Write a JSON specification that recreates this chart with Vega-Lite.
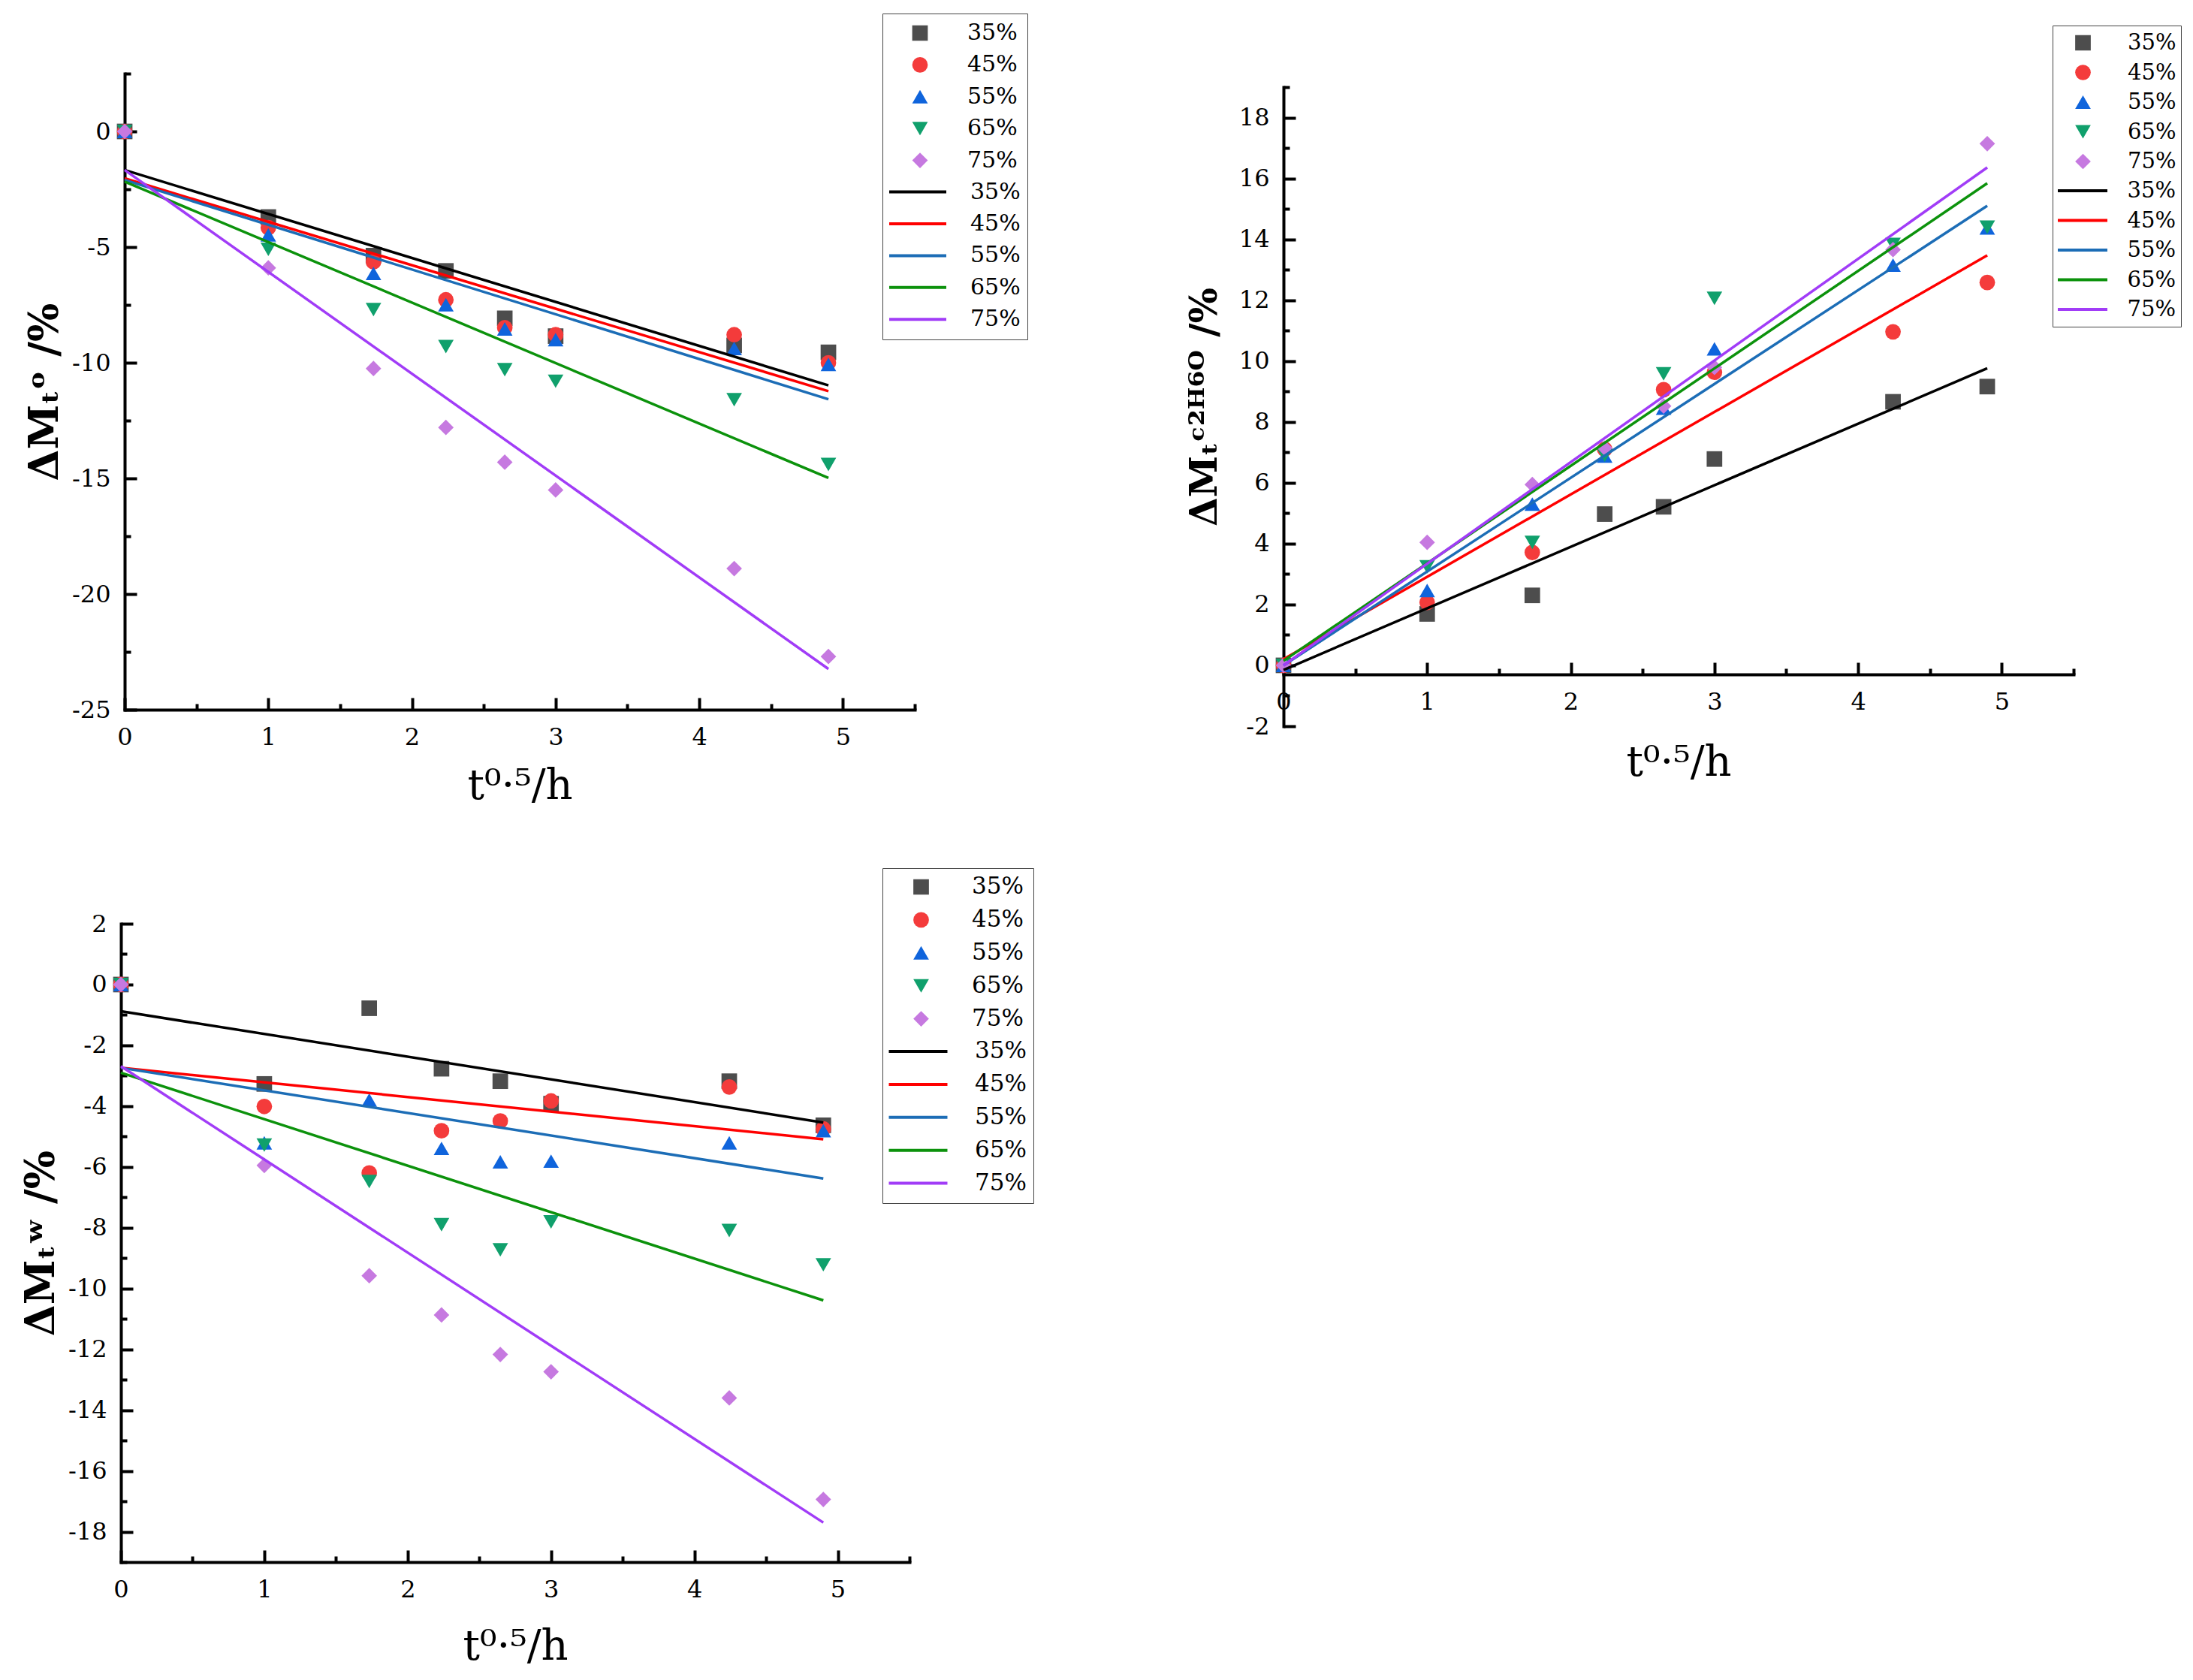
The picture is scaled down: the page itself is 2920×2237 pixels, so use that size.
{
  "$schema": "https://vega.github.io/schema/vega-lite/v6.json",
  "background": "white",
  "padding": {"left": 28, "top": 17, "right": 5, "bottom": 5},
  "bounds": "flush",
  "columns": 2,
  "spacing": {"column": 491, "row": 263},
  "resolve": {
    "scale": {"fill": "independent", "shape": "independent", "stroke": "independent"},
    "legend": {"fill": "independent", "shape": "independent", "stroke": "independent"}
  },
  "data": {"values": [
    {"p":1,"g":"35%","x":0,"y":0},{"p":1,"g":"35%","x":1,"y":-3.7},{"p":1,"g":"35%","x":1.732,"y":-5.37},{"p":1,"g":"35%","x":2.236,"y":-6.03},{"p":1,"g":"35%","x":2.646,"y":-8.08},{"p":1,"g":"35%","x":3,"y":-8.85},{"p":1,"g":"35%","x":4.243,"y":-9.25},{"p":1,"g":"35%","x":4.899,"y":-9.55},
    {"p":1,"g":"45%","x":0,"y":0},{"p":1,"g":"45%","x":1,"y":-4.16},{"p":1,"g":"45%","x":1.732,"y":-5.64},{"p":1,"g":"45%","x":2.236,"y":-7.28},{"p":1,"g":"45%","x":2.646,"y":-8.49},{"p":1,"g":"45%","x":3,"y":-8.79},{"p":1,"g":"45%","x":4.243,"y":-8.79},{"p":1,"g":"45%","x":4.899,"y":-10.0},
    {"p":1,"g":"55%","x":0,"y":0},{"p":1,"g":"55%","x":1,"y":-4.47},{"p":1,"g":"55%","x":1.732,"y":-6.14},{"p":1,"g":"55%","x":2.236,"y":-7.49},{"p":1,"g":"55%","x":2.646,"y":-8.54},{"p":1,"g":"55%","x":3,"y":-9.0},{"p":1,"g":"55%","x":4.243,"y":-9.38},{"p":1,"g":"55%","x":4.899,"y":-10.07},
    {"p":1,"g":"65%","x":0,"y":0},{"p":1,"g":"65%","x":1,"y":-5.1},{"p":1,"g":"65%","x":1.732,"y":-7.7},{"p":1,"g":"65%","x":2.236,"y":-9.3},{"p":1,"g":"65%","x":2.646,"y":-10.3},{"p":1,"g":"65%","x":3,"y":-10.8},{"p":1,"g":"65%","x":4.243,"y":-11.6},{"p":1,"g":"65%","x":4.899,"y":-14.4},
    {"p":1,"g":"75%","x":0,"y":0},{"p":1,"g":"75%","x":1,"y":-5.9},{"p":1,"g":"75%","x":1.732,"y":-10.25},{"p":1,"g":"75%","x":2.236,"y":-12.8},{"p":1,"g":"75%","x":2.646,"y":-14.3},{"p":1,"g":"75%","x":3,"y":-15.5},{"p":1,"g":"75%","x":4.243,"y":-18.9},{"p":1,"g":"75%","x":4.899,"y":-22.7},
    {"p":1,"f":"35%","x":0,"y":-1.67},{"p":1,"f":"35%","x":4.899,"y":-10.98},
    {"p":1,"f":"45%","x":0,"y":-2.03},{"p":1,"f":"45%","x":4.899,"y":-11.23},
    {"p":1,"f":"55%","x":0,"y":-2.1},{"p":1,"f":"55%","x":4.899,"y":-11.58},
    {"p":1,"f":"65%","x":0,"y":-2.17},{"p":1,"f":"65%","x":4.899,"y":-14.98},
    {"p":1,"f":"75%","x":0,"y":-1.67},{"p":1,"f":"75%","x":4.899,"y":-23.24},
    {"p":2,"g":"35%","x":0,"y":0},{"p":2,"g":"35%","x":1,"y":1.69},{"p":2,"g":"35%","x":1.732,"y":2.3},{"p":2,"g":"35%","x":2.236,"y":4.97},{"p":2,"g":"35%","x":2.646,"y":5.21},{"p":2,"g":"35%","x":3,"y":6.78},{"p":2,"g":"35%","x":4.243,"y":8.66},{"p":2,"g":"35%","x":4.899,"y":9.16},
    {"p":2,"g":"45%","x":0,"y":0},{"p":2,"g":"45%","x":1,"y":2.07},{"p":2,"g":"45%","x":1.732,"y":3.71},{"p":2,"g":"45%","x":2.236,"y":7.1},{"p":2,"g":"45%","x":2.646,"y":9.06},{"p":2,"g":"45%","x":3,"y":9.63},{"p":2,"g":"45%","x":4.243,"y":10.96},{"p":2,"g":"45%","x":4.899,"y":12.58},
    {"p":2,"g":"55%","x":0,"y":0},{"p":2,"g":"55%","x":1,"y":2.46},{"p":2,"g":"55%","x":1.732,"y":5.3},{"p":2,"g":"55%","x":2.236,"y":6.88},{"p":2,"g":"55%","x":2.646,"y":8.45},{"p":2,"g":"55%","x":3,"y":10.4},{"p":2,"g":"55%","x":4.243,"y":13.15},{"p":2,"g":"55%","x":4.899,"y":14.37},
    {"p":2,"g":"65%","x":0,"y":0},{"p":2,"g":"65%","x":1,"y":3.24},{"p":2,"g":"65%","x":1.732,"y":4.04},{"p":2,"g":"65%","x":2.236,"y":6.9},{"p":2,"g":"65%","x":2.646,"y":9.58},{"p":2,"g":"65%","x":3,"y":12.06},{"p":2,"g":"65%","x":4.243,"y":13.83},{"p":2,"g":"65%","x":4.899,"y":14.4},
    {"p":2,"g":"75%","x":0,"y":0},{"p":2,"g":"75%","x":1,"y":4.04},{"p":2,"g":"75%","x":1.732,"y":5.94},{"p":2,"g":"75%","x":2.236,"y":7.14},{"p":2,"g":"75%","x":2.646,"y":8.52},{"p":2,"g":"75%","x":3,"y":9.79},{"p":2,"g":"75%","x":4.243,"y":13.66},{"p":2,"g":"75%","x":4.899,"y":17.14},
    {"p":2,"f":"35%","x":0,"y":-0.15},{"p":2,"f":"35%","x":4.899,"y":9.76},
    {"p":2,"f":"45%","x":0,"y":0.2},{"p":2,"f":"45%","x":4.899,"y":13.47},
    {"p":2,"f":"55%","x":0,"y":0.0},{"p":2,"f":"55%","x":4.899,"y":15.1},
    {"p":2,"f":"65%","x":0,"y":0.15},{"p":2,"f":"65%","x":4.899,"y":15.84},
    {"p":2,"f":"75%","x":0,"y":0.0},{"p":2,"f":"75%","x":4.899,"y":16.36},
    {"p":3,"g":"35%","x":0,"y":0},{"p":3,"g":"35%","x":1,"y":-3.27},{"p":3,"g":"35%","x":1.732,"y":-0.78},{"p":3,"g":"35%","x":2.236,"y":-2.77},{"p":3,"g":"35%","x":2.646,"y":-3.18},{"p":3,"g":"35%","x":3,"y":-3.92},{"p":3,"g":"35%","x":4.243,"y":-3.18},{"p":3,"g":"35%","x":4.899,"y":-4.63},
    {"p":3,"g":"45%","x":0,"y":0},{"p":3,"g":"45%","x":1,"y":-4.01},{"p":3,"g":"45%","x":1.732,"y":-6.2},{"p":3,"g":"45%","x":2.236,"y":-4.81},{"p":3,"g":"45%","x":2.646,"y":-4.49},{"p":3,"g":"45%","x":3,"y":-3.83},{"p":3,"g":"45%","x":4.243,"y":-3.37},{"p":3,"g":"45%","x":4.899,"y":-4.75},
    {"p":3,"g":"55%","x":0,"y":0},{"p":3,"g":"55%","x":1,"y":-5.21},{"p":3,"g":"55%","x":1.732,"y":-3.8},{"p":3,"g":"55%","x":2.236,"y":-5.39},{"p":3,"g":"55%","x":2.646,"y":-5.83},{"p":3,"g":"55%","x":3,"y":-5.81},{"p":3,"g":"55%","x":4.243,"y":-5.21},{"p":3,"g":"55%","x":4.899,"y":-4.81},
    {"p":3,"g":"65%","x":0,"y":0},{"p":3,"g":"65%","x":1,"y":-5.28},{"p":3,"g":"65%","x":1.732,"y":-6.48},{"p":3,"g":"65%","x":2.236,"y":-7.9},{"p":3,"g":"65%","x":2.646,"y":-8.73},{"p":3,"g":"65%","x":3,"y":-7.81},{"p":3,"g":"65%","x":4.243,"y":-8.09},{"p":3,"g":"65%","x":4.899,"y":-9.22},
    {"p":3,"g":"75%","x":0,"y":0},{"p":3,"g":"75%","x":1,"y":-5.95},{"p":3,"g":"75%","x":1.732,"y":-9.58},{"p":3,"g":"75%","x":2.236,"y":-10.87},{"p":3,"g":"75%","x":2.646,"y":-12.17},{"p":3,"g":"75%","x":3,"y":-12.74},{"p":3,"g":"75%","x":4.243,"y":-13.6},{"p":3,"g":"75%","x":4.899,"y":-16.94},
    {"p":3,"f":"35%","x":0,"y":-0.88},{"p":3,"f":"35%","x":4.899,"y":-4.54},
    {"p":3,"f":"45%","x":0,"y":-2.74},{"p":3,"f":"45%","x":4.899,"y":-5.09},
    {"p":3,"f":"55%","x":0,"y":-2.74},{"p":3,"f":"55%","x":4.899,"y":-6.38},
    {"p":3,"f":"65%","x":0,"y":-2.9},{"p":3,"f":"65%","x":4.899,"y":-10.39},
    {"p":3,"f":"75%","x":0,"y":-2.69},{"p":3,"f":"75%","x":4.899,"y":-17.7}
  ]},
  "config": {
    "font": "DejaVu Serif",
    "view": {"stroke": null},
    "axis": {"grid": false, "domainColor": "black", "tickColor": "black", "labelColor": "black", "titleColor": "black", "domainWidth": 4, "tickWidth": 4, "domainCap": "square", "labelFont": "DejaVu Serif", "labelFontSize": 32, "titleFont": "DejaVu Serif", "labelFlush": false, "labelOverlap": false, "labelBound": false},
    "legend": {"labelFont": "DejaVu Serif", "labelColor": "black", "titleColor": "black"}
  },
  "concat": [
    {
      "width": 1057, "height": 847,
      "layer": [
        {
          "transform": [{"filter": "datum.p==1 && isValid(datum.g)"}],
          "mark": {"type": "point", "filled": true, "size": 430, "opacity": 1, "strokeWidth": 0},
          "encoding": {
            "x": {"field": "x", "type": "quantitative", "scale": {"domain": [0, 5.5], "range": [5, 1057], "nice": false, "zero": false},
                  "axis": {"orient": "bottom", "values": [0.5,1.5,2.5,3.5,4.5,5.5], "tickSize": -8, "labels": false, "domain": false, "title": null}},
            "y": {"field": "y", "type": "quantitative", "scale": {"domain": [-25, 2.5], "nice": false, "zero": false},
                  "axis": {"orient": "left", "offset": -5, "values": [-22.5,-17.5,-12.5,-7.5,-2.5,2.5], "tickSize": -8, "labels": false, "domain": false, "title": null}},
            "fill": {"field": "g", "type": "nominal", "scale": {"range": ["#4d4d4d","#f43b3b","#0f64dc","#10a06c","#c679e0"]},
                     "legend": {"orient": "none", "legendX": 1049, "legendY": -71, "title": null, "padding": 0, "clipHeight": 34, "rowPadding": 8.4, "symbolSize": 430, "symbolStrokeWidth": 0, "labelOffset": 48, "labelFontSize": 30}},
            "shape": {"field": "g", "type": "nominal", "scale": {"range": ["square","circle","triangle-up","triangle-down","diamond"]},
                     "legend": {"orient": "none", "legendX": 1049, "legendY": -71, "title": null, "padding": 0, "clipHeight": 34, "rowPadding": 8.4, "symbolSize": 430, "symbolStrokeWidth": 0, "labelOffset": 48, "labelFontSize": 30}}
          }
        },
        {
          "transform": [{"filter": "datum.p==1 && isValid(datum.f)"}],
          "mark": {"type": "line", "strokeWidth": 3.5},
          "encoding": {
            "x": {"field": "x", "type": "quantitative",
                  "axis": {"orient": "bottom", "values": [0,1,2,3,4,5], "tickSize": -16, "labelPadding": 37, "title": "t⁰·⁵/h", "titleFontSize": 56, "titleFontWeight": "normal", "titleBaseline": "alphabetic", "titleY": 118}},
            "y": {"field": "y", "type": "quantitative",
                  "axis": {"orient": "left", "offset": -5, "values": [-25,-20,-15,-10,-5,0], "tickSize": -16, "labelPadding": 35, "labelExpr": "replace(datum.label, '−', '-')", "title": "ΔMₜᵒ /%", "titleFontSize": 54, "titleFontWeight": "bold", "titleAngle": 270, "titleBaseline": "alphabetic", "titleX": -90}},
            "stroke": {"field": "f", "type": "nominal", "scale": {"range": ["#000000","#ff0000","#1c6db6","#0c920c","#a13cf7"]},
                       "legend": {"orient": "none", "legendX": 1014, "legendY": -80, "title": [" "," "," "," "," "], "titleFontSize": 42, "titleLineHeight": 42.4, "titlePadding": 0, "padding": 9, "strokeColor": "#444444", "clipHeight": 34, "rowPadding": 8.4, "symbolType": "M-2,0H2", "symbolSize": 1600, "symbolStrokeWidth": 4, "symbolOffset": 14, "labelOffset": 50, "labelFontSize": 30}}
          }
        }
      ],
      "resolve": {"axis": {"x": "independent", "y": "independent"}}
    },
    {
      "width": 1052, "height": 869,
      "layer": [
        {
          "transform": [{"filter": "datum.p==2 && isValid(datum.g)"}],
          "mark": {"type": "point", "filled": true, "size": 430, "opacity": 1, "strokeWidth": 0},
          "encoding": {
            "x": {"field": "x", "type": "quantitative", "scale": {"domain": [0, 5.5], "nice": false, "zero": false},
                  "axis": {"orient": "bottom", "offset": -69, "values": [0.5,1.5,2.5,3.5,4.5,5.5], "tickSize": -8, "labels": false, "domain": false, "title": null}},
            "y": {"field": "y", "type": "quantitative", "scale": {"domain": [-2, 19], "range": [869, 18], "nice": false, "zero": false},
                  "axis": {"orient": "left", "values": [-1,1,3,5,7,9,11,13,15,17,19], "tickSize": -8, "labels": false, "domain": false, "title": null}},
            "fill": {"field": "g", "type": "nominal", "scale": {"range": ["#4d4d4d","#f43b3b","#0f64dc","#10a06c","#c679e0"]},
                     "legend": {"orient": "none", "legendX": 1050, "legendY": -57, "title": null, "padding": 0, "clipHeight": 32, "rowPadding": 7.5, "symbolSize": 430, "symbolStrokeWidth": 0, "labelOffset": 45, "labelFontSize": 29}},
            "shape": {"field": "g", "type": "nominal", "scale": {"range": ["square","circle","triangle-up","triangle-down","diamond"]},
                     "legend": {"orient": "none", "legendX": 1050, "legendY": -57, "title": null, "padding": 0, "clipHeight": 32, "rowPadding": 7.5, "symbolSize": 430, "symbolStrokeWidth": 0, "labelOffset": 45, "labelFontSize": 29}}
          }
        },
        {
          "transform": [{"filter": "datum.p==2 && isValid(datum.f)"}],
          "mark": {"type": "line", "strokeWidth": 3.5},
          "encoding": {
            "x": {"field": "x", "type": "quantitative",
                  "axis": {"orient": "bottom", "offset": -69, "values": [0,1,2,3,4,5], "tickSize": -16, "labelPadding": 37, "title": "t⁰·⁵/h", "titleFontSize": 56, "titleFontWeight": "normal", "titleBaseline": "alphabetic", "titleY": 134}},
            "y": {"field": "y", "type": "quantitative",
                  "axis": {"orient": "left", "values": [-2,0,2,4,6,8,10,12,14,16,18], "tickSize": -16, "labelPadding": 35, "labelExpr": "replace(datum.label, '−', '-')", "title": "ΔMₜᶜ²ᴴ⁶ᴼ /%", "titleFontSize": 50, "titleFontWeight": "bold", "titleAngle": 270, "titleBaseline": "alphabetic", "titleX": -90}},
            "stroke": {"field": "f", "type": "nominal", "scale": {"range": ["#000000","#ff0000","#1c6db6","#0c920c","#a13cf7"]},
                       "legend": {"orient": "none", "legendX": 1024, "legendY": -64, "title": [" "," "," "," "," "], "titleFontSize": 39.4, "titleLineHeight": 39.4, "titlePadding": 0, "padding": 7, "strokeColor": "#444444", "clipHeight": 32, "rowPadding": 7.5, "symbolType": "M-2,0H2", "symbolSize": 1369, "symbolStrokeWidth": 4, "symbolOffset": 8.5, "labelOffset": 43, "labelFontSize": 29}}
          }
        }
      ],
      "resolve": {"axis": {"x": "independent", "y": "independent"}}
    },
    {
      "width": 1050, "height": 850,
      "layer": [
        {
          "transform": [{"filter": "datum.p==3 && isValid(datum.g)"}],
          "mark": {"type": "point", "filled": true, "size": 430, "opacity": 1, "strokeWidth": 0},
          "encoding": {
            "x": {"field": "x", "type": "quantitative", "scale": {"domain": [0, 5.5], "nice": false, "zero": false},
                  "axis": {"orient": "bottom", "values": [0.5,1.5,2.5,3.5,4.5,5.5], "tickSize": -8, "labels": false, "domain": false, "title": null}},
            "y": {"field": "y", "type": "quantitative", "scale": {"domain": [-19, 2], "nice": false, "zero": false},
                  "axis": {"orient": "left", "values": [-19,-17,-15,-13,-11,-9,-7,-5,-3,-1,1], "tickSize": -8, "labels": false, "domain": false, "title": null}},
            "fill": {"field": "g", "type": "nominal", "scale": {"range": ["#4d4d4d","#f43b3b","#0f64dc","#10a06c","#c679e0"]},
                     "legend": {"orient": "none", "legendX": 1050, "legendY": -66.5, "title": null, "padding": 0, "clipHeight": 35, "rowPadding": 8.9, "symbolSize": 430, "symbolStrokeWidth": 0, "labelOffset": 52, "labelFontSize": 31}},
            "shape": {"field": "g", "type": "nominal", "scale": {"range": ["square","circle","triangle-up","triangle-down","diamond"]},
                     "legend": {"orient": "none", "legendX": 1050, "legendY": -66.5, "title": null, "padding": 0, "clipHeight": 35, "rowPadding": 8.9, "symbolSize": 430, "symbolStrokeWidth": 0, "labelOffset": 52, "labelFontSize": 31}}
          }
        },
        {
          "transform": [{"filter": "datum.p==3 && isValid(datum.f)"}],
          "mark": {"type": "line", "strokeWidth": 3.5},
          "encoding": {
            "x": {"field": "x", "type": "quantitative",
                  "axis": {"orient": "bottom", "values": [0,1,2,3,4,5], "tickSize": -16, "labelPadding": 37, "title": "t⁰·⁵/h", "titleFontSize": 56, "titleFontWeight": "normal", "titleBaseline": "alphabetic", "titleY": 129}},
            "y": {"field": "y", "type": "quantitative",
                  "axis": {"orient": "left", "values": [-18,-16,-14,-12,-10,-8,-6,-4,-2,0,2], "tickSize": -16, "labelPadding": 35, "labelExpr": "replace(datum.label, '−', '-')", "title": "ΔMₜʷ /%", "titleFontSize": 54, "titleFontWeight": "bold", "titleAngle": 270, "titleBaseline": "alphabetic", "titleX": -90}},
            "stroke": {"field": "f", "type": "nominal", "scale": {"range": ["#000000","#ff0000","#1c6db6","#0c920c","#a13cf7"]},
                       "legend": {"orient": "none", "legendX": 1014, "legendY": -74, "title": [" "," "," "," "," "], "titleFontSize": 43.6, "titleLineHeight": 43.6, "titlePadding": 0, "padding": 8.5, "strokeColor": "#444444", "clipHeight": 35, "rowPadding": 8.9, "symbolType": "M-2,0H2", "symbolSize": 1640, "symbolStrokeWidth": 4, "symbolOffset": 15, "labelOffset": 54.5, "labelFontSize": 31}}
          }
        }
      ],
      "resolve": {"axis": {"x": "independent", "y": "independent"}}
    }
  ]
}
